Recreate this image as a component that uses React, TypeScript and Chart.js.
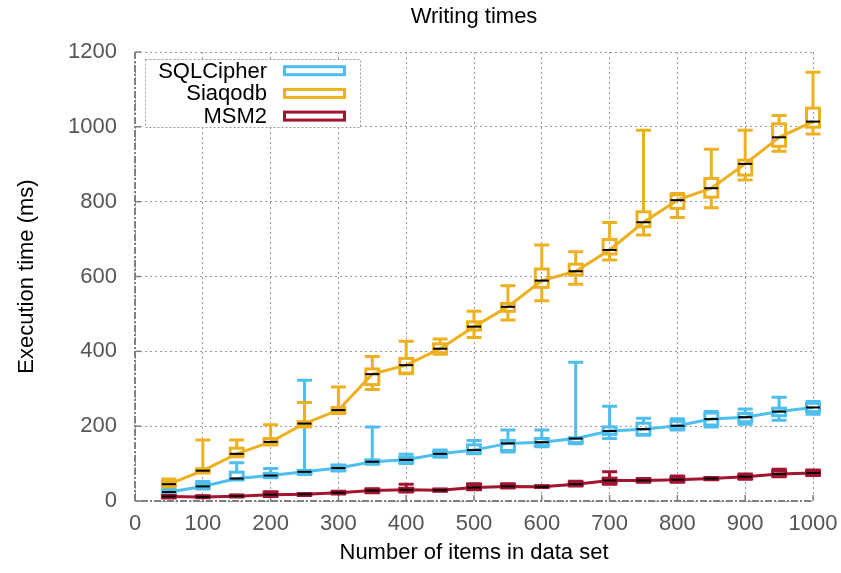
import { useEffect, useRef } from 'react';
import { Chart, registerables } from 'chart.js';

Chart.register(...registerables);

const ITEMS = [50, 100, 150, 200, 250, 300, 350, 400, 450, 500, 550, 600, 650, 700, 750, 800, 850, 900, 950, 1000];

const SQLCIPHER_MIN = [15, 32, 56, 62, 71, 80, 98, 100, 117, 126, 131, 145, 153, 167, 176, 190, 198, 205, 216, 232];
const SQLCIPHER_Q1 = [19, 35, 58, 64, 73, 82, 100, 103, 120, 128, 135, 148, 156, 178, 178, 193, 203, 212, 228, 239];
const SQLCIPHER_MED = [24, 39, 60, 68, 78, 88, 105, 110, 126, 136, 154, 157, 167, 187, 192, 201, 219, 224, 239, 250];
const SQLCIPHER_Q3 = [29, 46, 77, 74, 82, 95, 110, 117, 132, 150, 162, 167, 169, 198, 208, 213, 235, 234, 248, 261];
const SQLCIPHER_MAX = [31, 52, 102, 87, 323, 96, 198, 125, 136, 162, 190, 190, 371, 253, 221, 220, 239, 246, 277, 266];

const SIAQODB_MIN = [38, 75, 118, 150, 198, 234, 298, 340, 392, 437, 484, 535, 579, 644, 711, 758, 784, 858, 935, 981];
const SIAQODB_Q1 = [40, 77, 121, 153, 201, 237, 311, 342, 396, 457, 507, 571, 604, 660, 733, 782, 812, 871, 948, 999];
const SIAQODB_MED = [45, 81, 126, 158, 207, 243, 339, 363, 407, 466, 519, 589, 614, 671, 745, 804, 836, 901, 972, 1014];
const SIAQODB_Q3 = [52, 86, 141, 167, 212, 250, 353, 381, 420, 479, 528, 620, 633, 699, 773, 818, 862, 911, 1008, 1050];
const SIAQODB_MAX = [59, 163, 163, 204, 263, 305, 386, 427, 433, 507, 575, 684, 666, 744, 991, 822, 940, 991, 1030, 1146];

const MSM2_MIN = [8, 9, 11, 12, 15, 19, 22, 24, 26, 30, 35, 36, 40, 45, 50, 50, 57, 58, 65, 68];
const MSM2_Q1 = [10, 10, 12, 13, 16, 20, 24, 26, 27, 31, 37, 37, 42, 48, 52, 53, 58, 60, 68, 70];
const MSM2_MED = [12, 11, 13, 17, 18, 22, 28, 30, 29, 36, 39, 38, 45, 55, 55, 57, 60, 65, 72, 75];
const MSM2_Q3 = [14, 13, 15, 23, 19, 24, 31, 34, 31, 44, 44, 40, 50, 61, 58, 63, 62, 69, 80, 80];
const MSM2_MAX = [15, 14, 16, 25, 20, 26, 33, 45, 32, 46, 46, 41, 53, 78, 60, 67, 63, 72, 85, 83];

const SERIES = [
  { name: 'SQLCipher', color: '#4DBEEE', min: SQLCIPHER_MIN, q1: SQLCIPHER_Q1, med: SQLCIPHER_MED, q3: SQLCIPHER_Q3, max: SQLCIPHER_MAX },
  { name: 'Siaqodb', color: '#EDB120', min: SIAQODB_MIN, q1: SIAQODB_Q1, med: SIAQODB_MED, q3: SIAQODB_Q3, max: SIAQODB_MAX },
  { name: 'MSM2', color: '#A2142F', min: MSM2_MIN, q1: MSM2_Q1, med: MSM2_MED, q3: MSM2_Q3, max: MSM2_MAX },
];

const FONT = "'Liberation Sans', Arial, sans-serif";
const BOX_HALF = 6.5;
const CAP_HALF = 7.5;
const MED_HALF = 7;

const boxPlugin = {
  id: 'boxWhiskers',
  beforeDatasetsDraw(chart: any) {
    const { ctx, chartArea: a, scales } = chart;
    ctx.save();
    ctx.strokeStyle = '#808080';
    ctx.lineWidth = 2;
    ctx.setLineDash([7, 2, 2, 2]);
    ctx.beginPath();
    ctx.moveTo(a.left, a.top);
    ctx.lineTo(a.left, a.bottom);
    ctx.lineTo(a.right, a.bottom);
    ctx.stroke();
    ctx.setLineDash([]);
    ctx.lineWidth = 1.5;
    scales.x.ticks.forEach((t: any) => {
      const x = scales.x.getPixelForValue(t.value);
      ctx.beginPath();
      ctx.moveTo(x, a.bottom);
      ctx.lineTo(x, a.bottom - 6);
      ctx.stroke();
    });
    scales.y.ticks.forEach((t: any) => {
      const y = scales.y.getPixelForValue(t.value);
      ctx.beginPath();
      ctx.moveTo(a.left, y);
      ctx.lineTo(a.left + 6, y);
      ctx.stroke();
    });
    ctx.restore();
  },
  afterDatasetDraw(chart: any, args: any) {
    const ds = chart.data.datasets[args.index];
    if (ds.seriesIndex === undefined) return;
    const s = SERIES[ds.seriesIndex];
    const { ctx, scales } = chart;
    const xs = scales.x;
    const ys = scales.y;
    ctx.save();
    ctx.lineCap = 'butt';
    for (let i = 0; i < ITEMS.length; i++) {
      const x = xs.getPixelForValue(ITEMS[i]);
      const yMin = ys.getPixelForValue(s.min[i]);
      const yQ1 = ys.getPixelForValue(s.q1[i]);
      const yMed = ys.getPixelForValue(s.med[i]);
      const yQ3 = ys.getPixelForValue(s.q3[i]);
      const yMax = ys.getPixelForValue(s.max[i]);
      ctx.strokeStyle = s.color;
      ctx.lineWidth = 3;
      ctx.beginPath();
      ctx.moveTo(x, yQ1);
      ctx.lineTo(x, yMin);
      ctx.moveTo(x, yQ3);
      ctx.lineTo(x, yMax);
      ctx.moveTo(x - CAP_HALF, yMin);
      ctx.lineTo(x + CAP_HALF, yMin);
      ctx.moveTo(x - CAP_HALF, yMax);
      ctx.lineTo(x + CAP_HALF, yMax);
      ctx.stroke();
      ctx.strokeRect(x - BOX_HALF, yQ3, BOX_HALF * 2, yQ1 - yQ3);
      ctx.strokeStyle = '#000000';
      ctx.lineWidth = 2;
      ctx.beginPath();
      ctx.moveTo(x - MED_HALF, yMed);
      ctx.lineTo(x + MED_HALF, yMed);
      ctx.stroke();
    }
    ctx.restore();
  },
  afterDraw(chart: any) {
    const { ctx, chartArea: a } = chart;
    const lx = a.left + 10;
    const ly = a.top + 7;
    const lw = 215;
    const lh = 68;
    ctx.save();
    ctx.fillStyle = '#ffffff';
    ctx.fillRect(lx, ly, lw, lh);
    ctx.strokeStyle = '#999999';
    ctx.lineWidth = 1;
    ctx.setLineDash([2, 2]);
    ctx.strokeRect(lx + 0.5, ly + 0.5, lw, lh);
    ctx.setLineDash([]);
    ctx.font = `22px ${FONT}`;
    ctx.textAlign = 'right';
    ctx.textBaseline = 'middle';
    SERIES.forEach((s, i) => {
      const cy = ly + 11.7 + i * 22.7;
      ctx.fillStyle = '#000000';
      ctx.fillText(s.name, lx + 122, cy + 1);
      ctx.strokeStyle = s.color;
      ctx.lineWidth = 3;
      ctx.strokeRect(lx + 139.5, cy - 4, 60, 8);
    });
    ctx.restore();
  },
};

export default function App() {
  const canvasRef = useRef<HTMLCanvasElement | null>(null);

  useEffect(() => {
    document.body.style.margin = '0';
    const canvas = canvasRef.current;
    if (!canvas) return;
    const datasets: any[] = SERIES.map((s, si) => ({
      type: 'line',
      label: s.name,
      data: ITEMS.map((x, i) => ({ x, y: s.med[i] })),
      borderColor: s.color,
      backgroundColor: s.color,
      borderWidth: 3,
      pointRadius: 0,
      fill: false,
      tension: 0,
      order: 10 - si,
      seriesIndex: si,
    }));
    const chart = new Chart(canvas, {
      type: 'line',
      data: { datasets },
      plugins: [boxPlugin],
      options: {
        responsive: false,
        animation: false,
        devicePixelRatio: 1,
        layout: { padding: { left: 0, right: 28, top: 0, bottom: 0 } },
        plugins: {
          legend: { display: false },
          tooltip: { enabled: false },
          title: {
            display: true,
            fullSize: false,
            text: 'Writing times',
            color: '#000000',
            font: { family: FONT, size: 22, weight: 'normal', lineHeight: 1.2 },
            padding: { top: 4, bottom: 21.6 },
          },
        },
        scales: {
          x: {
            type: 'linear',
            min: 0,
            max: 1000,
            offset: false,
            afterFit: (scale: any) => { scale.height = 72; scale.paddingRight = 28; scale.paddingLeft = 0; },
            ticks: { stepSize: 100, color: '#555555', font: { family: FONT, size: 22 }, padding: 10, maxRotation: 0, autoSkip: false, callback: (v: any) => String(v) },
            grid: { color: '#9a9a9a', lineWidth: 1, drawTicks: false, offset: false },
            border: { display: false, dash: [2, 3] },
            title: { display: true, text: 'Number of items in data set', color: '#000000', font: { family: FONT, size: 22, lineHeight: 1.2 }, padding: { top: 0, bottom: 7 } },
          },
          y: {
            type: 'linear',
            min: 0,
            max: 1200,
            afterFit: (scale: any) => { scale.width = 135; },
            ticks: { stepSize: 200, color: '#555555', font: { family: FONT, size: 22 }, padding: 18, callback: (v: any) => String(v) },
            grid: { color: '#9a9a9a', lineWidth: 1, drawTicks: false },
            border: { display: false, dash: [2, 3] },
            title: { display: true, text: 'Execution time (ms)', color: '#000000', font: { family: FONT, size: 22, lineHeight: 1.2 }, padding: { top: 14, bottom: 0 } },
          },
        },
      } as any,
    });
    return () => chart.destroy();
  }, []);

  return (
    <div style={{ width: 841, height: 573 }}>
      <canvas ref={canvasRef} width={841} height={573} style={{ display: 'block' }} />
    </div>
  );
}
